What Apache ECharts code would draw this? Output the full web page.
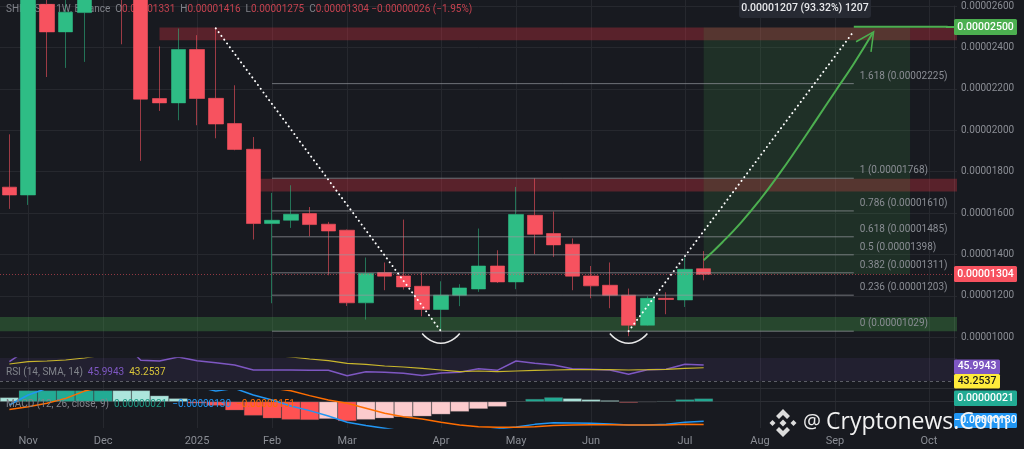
<!DOCTYPE html>
<html>
<head>
<meta charset="utf-8">
<script src="https://cdn.jsdelivr.net/npm/echarts@6/dist/echarts.min.js"></script>
<style>
html, body { margin: 0; background: #181a20; overflow: hidden; }
#chart { width: 1024px; height: 449px; }
</style>
</head>
<body>
<div id="chart"></div>
<script>
// prices are in units of 0.00000001
var weeks = ['2024-10-28','2024-11-04','2024-11-11','2024-11-18','2024-11-25','2024-12-02','2024-12-09','2024-12-16','2024-12-23','2024-12-30',
  '2025-01-06','2025-01-13','2025-01-20','2025-01-27','2025-02-03','2025-02-10','2025-02-17','2025-02-24','2025-03-03','2025-03-10',
  '2025-03-17','2025-03-24','2025-03-31','2025-04-07','2025-04-14','2025-04-21','2025-04-28','2025-05-05','2025-05-12','2025-05-19',
  '2025-05-26','2025-06-02','2025-06-09','2025-06-16','2025-06-23','2025-06-30','2025-07-07','2025-07-14','2025-07-21','2025-07-28',
  '2025-08-04','2025-08-11','2025-08-18','2025-08-25','2025-09-01','2025-09-08','2025-09-15','2025-09-22','2025-09-29','2025-10-06','2025-10-13'];
var monthLabels = {'2024-11-04':'Nov','2024-12-02':'Dec','2025-01-06':'2025','2025-02-03':'Feb','2025-03-03':'Mar','2025-04-07':'Apr',
  '2025-05-05':'May','2025-06-02':'Jun','2025-07-07':'Jul','2025-08-04':'Aug','2025-09-01':'Sep','2025-10-06':'Oct'};

var opens  = [1725,1687,2608,2475,2568,2700,2950,2780,2153,2132,2390,2154,2032,1908,1549,1565,1597,1546,1517,1166,1312,1296,1246,1134,1203,1233,1344,1267,1589,1501,1449,1296,1251,1203,1058,1188,1180,1331];
var closes = [1687,2680,2475,2570,2700,3000,2780,2150,2132,2390,2153,2030,1907,1549,1565,1594,1544,1513,1166,1308,1295,1243,1134,1203,1238,1344,1267,1593,1497,1446,1295,1248,1203,1058,1188,1182,1328,1304];
var lows   = [1620,1639,2257,2301,2330,2660,2415,1852,2093,2048,2024,1961,1903,1472,1164,1528,1488,1299,1151,1085,1227,1230,1101,1034,1150,1219,1262,1232,1401,1388,1227,1188,1140,1005,1056,1111,1146,1275];
var highs  = [1980,2720,2700,2680,2760,3100,3050,2850,2405,2491,2459,2496,2217,1967,1697,1734,1629,1557,1520,1385,1361,1568,1315,1270,1256,1525,1420,1726,1767,1607,1477,1344,1361,1235,1198,1217,1385,1416];

var rsiValues = [49.3,62,60,61,65,72,70,50.7,50,54,50.3,48.3,46,41,41,41,40.7,40.7,35.3,39.3,38.7,37.7,35.5,38,38.7,42.3,40.7,50,47.7,46,42.3,41.7,41,36.7,41.3,41.7,46.7,45.99];
var rsiSma    = [47,49.3,50,51,53,56,58,60,61,62,61,60,59,58,56,54,52,50.3,47.7,46.7,45,44,42.7,41,39.3,40,39.3,40,40.7,41,41.3,41.3,41.3,41,41.3,41.7,42.7,43.25];

var macdLine   = [-22,44,88,120,150,170,175,165,150,125,100,70,88,44,11,-29,-59,-95,-136,-158,-176,-195,-205,-205,-200,-195,-180,-167,-150,-139,-141,-143,-147,-154,-154,-150,-136,-130];
var signalLine = [-51,-33,-11,22,70,100,125,140,150,155,150,140,125,110,90,72,40,11,-11,-44,-77,-99,-114,-136,-154,-165,-169,-169,-165,-158,-154,-152,-152,-154,-154,-154,-150,-151];
var histValues = [28,80,95,110,120,125,115,90,40,22,-11,-26,-57,-92,-110,-119,-121,-114,-128,-119,-110,-101,-97,-84,-66,-48,-33,2,18,29,22,15,9,-7,-3,4,15,21];

var fibRatios = ['0','0.236','0.382','0.5','0.618','0.786','1','1.618'];
var fibPrices = [1029,1203,1311,1398,1485,1610,1768,2225];
var curveArrow = [1372,1459,1555,1664,1785,1915,2050,2186,2321,2468];

var textFont = 'Roboto';
var bg = '#181a20', gridColor = '#26282e', axisText = '#8a8d94';
var upColor = '#2ebd85', downColor = '#f7525f';

function price(v) { return (v / 1e8).toFixed(8); }

function xAxisFor(gridIndex, showLabels) {
  return {
    type: 'category', gridIndex: gridIndex, data: weeks, boundaryGap: true,
    axisLine: { show: gridIndex === 1 || gridIndex === 2, lineStyle: { color: '#2c2e34' } },
    axisTick: { show: false },
    axisLabel: {
      show: showLabels, color: axisText, fontFamily: textFont, fontSize: 11, margin: 8,
      interval: function (i, v) { return !!monthLabels[v]; },
      formatter: function (v) { return monthLabels[v] || ''; }
    },
    // only the full height helper grid draws the month lines
    splitLine: {
      show: gridIndex === 3, alignWithLabel: true, lineStyle: { color: gridColor },
      interval: function (i, v) { return !!monthLabels[v]; }
    }
  };
}

function overlay(name, data, color, width, extra, xi) {
  var s = {
    name: name, type: 'line', xAxisIndex: xi || 0, yAxisIndex: xi || 0, data: data, showSymbol: false,
    symbol: 'none', silent: true, z: 6, lineStyle: { color: color, width: width }
  };
  for (var k in extra) s[k] = extra[k];
  return s;
}

var series = [];

series.push({
  name: 'SHIBUSDT', type: 'candlestick', xAxisIndex: 0, yAxisIndex: 0, z: 3, barWidth: 15, clip: false,
  data: opens.map(function (o, i) { return [o, closes[i], lows[i], highs[i]]; }),
  itemStyle: {
    color: upColor, color0: downColor,
    borderColor: 'rgba(46,189,133,0.55)', borderColor0: 'rgba(247,82,95,0.6)', borderWidth: 1
  },
  markLine: {
    silent: true, symbol: 'none', animation: false,
    data: [{ yAxis: closes[closes.length - 1] }],
    lineStyle: { color: 'rgba(247,82,95,0.55)', type: [1, 2], width: 1 },
    label: { show: false }
  }
});

// zones sit on top of the candles, they are translucent
series.push(overlay('zones', [], '#000', 0, {
  z: 4,
  markArea: {
    silent: true, animation: false,
    data: [
      [{ xAxis: 8, yAxis: 2496, itemStyle: { color: 'rgba(242,54,69,0.3)' } }, { yAxis: 2434 }],
      [{ xAxis: 13, yAxis: 1765, itemStyle: { color: 'rgba(242,54,69,0.3)' } }, { yAxis: 1704 }],
      [{ yAxis: 1097, itemStyle: { color: 'rgba(76,175,80,0.3)' } }, { yAxis: 1029 }],
      [{ xAxis: 37, yAxis: 2496, itemStyle: { color: 'rgba(76,175,80,0.15)' } }, { xAxis: 48, yAxis: 1304 }]
    ]
  }
}));

fibPrices.forEach(function (p, i) {
  series.push(overlay('fib ' + fibRatios[i], [[14, p], [45, p]], 'rgba(150,152,158,0.7)', 1, {
    z: 5,
    endLabel: {
      show: true, color: axisText, fontFamily: textFont, fontSize: 10, offset: [-2, -7.5],
      formatter: fibRatios[i] + ' (' + price(p) + ')'
    }
  }));
});

var dots = { color: '#fff', width: 2, type: [0.1, 4.6], cap: 'round' };
series.push(overlay('down leg', [[11, 2492], [23, 1029]], '#fff', 2, { lineStyle: dots }));
series.push(overlay('up leg', [[33, 1029], [45, 2478]], '#fff', 2, { lineStyle: dots }));
series.push(overlay('left dip', [[22, 1018], [23, 971], [24, 1018]], '#e8e8e8', 1.5, { smooth: 0.6 }));
series.push(overlay('right dip', [[32, 1018], [33, 971], [34, 1018]], '#e8e8e8', 1.5, { smooth: 0.6 }));
series.push(overlay('target', [[45, 2500], [50, 2500]], '#4caf50', 2));
series.push(overlay('curve arrow', curveArrow.map(function (v, i) { return [37 + i, v]; }), '#4caf50', 2, {
  smooth: 0.5,
  markPoint: {
    silent: true, animation: false,
    data: [{
      coord: [46, curveArrow[curveArrow.length - 1]],
      symbol: 'path://M0 10 L5 0 L10 10', symbolSize: 18, symbolRotate: -34, symbolOffset: [-4, 6],
      itemStyle: { color: 'transparent', borderColor: '#4caf50', borderWidth: 1.5 },
      label: { show: false }
    }]
  }
}));

series.push(overlay('RSI band', rsiValues, '#7e57c2', 0, {
  z: 1, lineStyle: { width: 0 },
  markArea: {
    silent: true, animation: false,
    itemStyle: { color: 'rgba(126,87,194,0.1)' },
    data: [[{ yAxis: 70 }, { yAxis: 30 }]]
  },
  markLine: {
    silent: true, symbol: 'none', animation: false, label: { show: false },
    lineStyle: { color: '#5c5e66', type: [3, 3], width: 1 },
    data: [{ yAxis: 30 }]
  }
}, 1));
series.push(overlay('RSI', rsiValues, '#7e57c2', 1.5, {}, 1));
series.push(overlay('RSI SMA', rsiSma, '#c9b62c', 1.2, {}, 1));

series.push({
  name: 'Histogram', type: 'bar', xAxisIndex: 2, yAxisIndex: 2, barWidth: '100%', z: 2,
  data: histValues.map(function (v, i) {
    var prev = i ? histValues[i - 1] : v + 1;
    var c = v >= 0 ? (v > prev ? '#22ab94' : '#ace5dc') : (v < prev ? '#ff5252' : '#fccbcd');
    return { value: v, itemStyle: { color: c, borderColor: 'rgba(90,90,95,0.5)', borderWidth: 0.5 } };
  })
});
series.push(overlay('MACD', macdLine, '#2196f3', 1.5, {}, 2));
series.push(overlay('Signal', signalLine, '#ff6d00', 1.5, {}, 2));

function tag(y, h, w, text, fill, color) {
  return {
    type: 'group', x: 954, y: y, silent: true,
    children: [
      { type: 'rect', z: 30, shape: { x: 0, y: 0, width: w, height: h, r: 1.5 }, style: { fill: fill } },
      { type: 'text', z: 31, x: w / 2, y: h / 2, style: { text: text, fill: color, font: '500 10.5px ' + textFont, align: 'center', verticalAlign: 'middle' } }
    ]
  };
}

var legendFont = '10px ' + textFont;
var legendText = {
  type: 'text', x: 6, y: 4, z: 1, silent: true,
  style: {
    font: legendFont,
    rich: { g: { fill: '#80838a', font: legendFont }, r: { fill: '#c5424f', font: legendFont } },
    text: '{g|SHIBUSDT, 1W, Binance  O}{r|0.00001331}{g|  H}{r|0.00001416}{g|  L}{r|0.00001275}{g|  C}{r|0.00001304}{r| \u22120.00000026 (\u22121.95%)}'
  }
};
var rsiText = {
  type: 'text', x: 6, y: 367, z: 30, silent: true,
  style: {
    font: legendFont,
    rich: { g: { fill: '#80838a', font: legendFont }, p: { fill: '#7e57c2', font: legendFont }, y: { fill: '#d8c53a', font: legendFont } },
    text: '{g|RSI (14, SMA, 14)}{p|  45.9943}{y|  43.2537}'
  }
};
var macdText = {
  type: 'text', x: 6, y: 399, z: 30, silent: true,
  style: {
    font: legendFont,
    rich: { g: { fill: '#80838a', font: legendFont }, t: { fill: '#1f9a85', font: legendFont }, b: { fill: '#2196f3', font: legendFont }, o: { fill: '#ff6d00', font: legendFont } },
    text: '{g|MACD (12, 26, close, 9)}{t|  0.00000021}{b|  \u22120.00000130}{o|  \u22120.00000151}'
  }
};

function hiddenValueAxis(gridIndex) {
  return { type: 'value', gridIndex: gridIndex, show: false, splitLine: { show: false } };
}
function paneAxis(gridIndex, min, max) {
  return {
    type: 'value', gridIndex: gridIndex, position: 'right', offset: -3, min: min, max: max, scale: true,
    axisLine: { show: true, lineStyle: { color: '#2c2e34' } }, axisTick: { show: false }, axisLabel: { show: false }, splitLine: { show: false }
  };
}

var logoFill = '#dcdcdc';
var option = {
  backgroundColor: bg,
  animation: false,
  grid: [
    { left: 0, top: 6, width: 957, height: 372.6 },
    { left: 0, top: 358, width: 957, height: 30 },
    { left: 0, top: 390.7, width: 957, height: 37.3 },
    { left: 0, top: 0, width: 957, height: 428 }
  ],
  xAxis: [xAxisFor(0, false), xAxisFor(1, false), xAxisFor(2, true), xAxisFor(3, false)],
  yAxis: [
    {
      type: 'value', gridIndex: 0, position: 'right', offset: -3, min: 800, max: 2600, interval: 200, scale: true,
      axisLine: { show: true, lineStyle: { color: '#2c2e34' } }, axisTick: { show: false },
      axisLabel: {
        color: axisText, fontFamily: textFont, fontSize: 10, margin: 7,
        formatter: function (v) { return v < 1000 ? '' : price(v); }
      },
      splitLine: { show: true, showMinLine: false, lineStyle: { color: gridColor } }
    },
    paneAxis(1, 23, 53),
    paneAxis(2, -174, 72.6),
    hiddenValueAxis(3)
  ],
  series: series,
  graphic: [
    legendText, rsiText, macdText,
    {
      type: 'group', x: 739, y: 0, silent: true,
      children: [
        { type: 'rect', z: 30, shape: { x: 0, y: -4, width: 132, height: 22, r: 3 }, style: { fill: '#272a33' } },
        { type: 'text', z: 31, x: 66, y: 8, style: { text: '0.00001207 (93.32%) 1207', fill: '#e8e9ec', font: '500 10.5px ' + textFont, align: 'center', verticalAlign: 'middle' } }
      ]
    },
    { type: 'rect', z: 29, silent: true, shape: { x: 946, y: 26, width: 8, height: 2 }, style: { fill: '#4caf50' } },
    tag(19, 16, 63, price(2500), '#4caf50', '#fff'),
    tag(266, 16, 63, price(1304), '#f7525f', '#fff'),
    tag(359.5, 14.5, 46, '45.9943', '#7e57c2', '#fff'),
    tag(374, 14.5, 46, '43.2537', '#ffeb3b', '#1a1a1a'),
    tag(390.5, 15.5, 63, price(21), '#22ab94', '#fff'),
    tag(413, 15, 63, '\u22120.00000130', '#2196f3', '#fff'),
    // watermark
    {
      type: 'group', x: 783, y: 423, silent: true,
      children: [
        { type: 'polygon', z: 40, shape: { points: [[0, -14], [7, -7], [4, -4], [0, -8], [-4, -4], [-7, -7]] }, style: { fill: logoFill } },
        { type: 'polygon', z: 40, shape: { points: [[0, 14], [7, 7], [4, 4], [0, 8], [-4, 4], [-7, 7]] }, style: { fill: logoFill } },
        { type: 'polygon', z: 40, shape: { points: [[-13.5, 0], [-10.5, -3], [-7.5, 0], [-10.5, 3]] }, style: { fill: logoFill } },
        { type: 'polygon', z: 40, shape: { points: [[13.5, 0], [10.5, -3], [7.5, 0], [10.5, 3]] }, style: { fill: logoFill } },
        { type: 'polygon', z: 40, shape: { points: [[0, -3.5], [3.5, 0], [0, 3.5], [-3.5, 0]] }, style: { fill: logoFill } },
        { type: 'text', z: 40, x: 20, y: -1, style: { text: '@', fill: '#ececec', font: '20px "Open Sans"', verticalAlign: 'middle' } },
        { type: 'text', z: 40, x: 43, y: -1, style: { text: 'Cryptonews.Com', fill: '#f2f2f2', font: '23px "Open Sans"', verticalAlign: 'middle' } }
      ]
    }
  ]
};

var chart = echarts.init(document.getElementById('chart'), null, { renderer: 'canvas' });
chart.setOption(option);
</script>
</body>
</html>
